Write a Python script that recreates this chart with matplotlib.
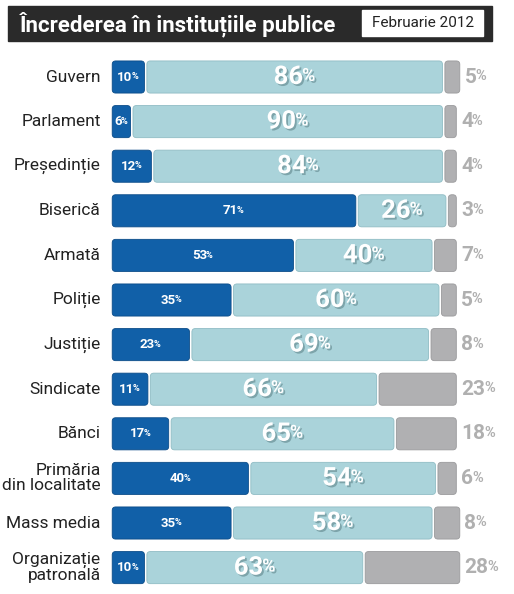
import matplotlib.pyplot as plt
import matplotlib.patches as mpatches
import matplotlib.patheffects as pe

# Données
institutii = ["Guvern", "Parlament", "Președinție", "Biserică", "Armată", "Poliție",
              "Justiție", "Sindicate", "Bănci", "Primăria\ndin localitate",
              "Mass media", "Organizație\npatronală"]
incredere = [10, 6, 12, 71, 53, 35, 23, 11, 17, 40, 35, 10]
neincredere = [86, 90, 84, 26, 40, 60, 69, 66, 65, 54, 58, 63]
nu_stiu = [5, 4, 4, 3, 7, 5, 8, 23, 18, 6, 8, 28]

titlu = "Încrederea în instituțiile publice"
data_sondaj = "Februarie 2012"

c_blue = "#1160a8"
c_light = "#aad3da"
c_grey = "#b0b0b2"
c_grey_txt = "#b0b0b0"

W, H = 514, 594
fig = plt.figure(figsize=(W / 100, H / 100), dpi=100)
fig.patch.set_facecolor("white")

font = ["Roboto", "DejaVu Sans"]

# Bandeau du titre
fig.patches.append(mpatches.Rectangle((8 / W, 1 - 41 / H), 484 / W, 35 / H,
                                      transform=fig.transFigure, color="#2a2a2a"))
fig.patches.append(mpatches.Rectangle((362 / W, 1 - 36 / H), 121 / W, 26 / H,
                                      transform=fig.transFigure, color="white"))
fig.text(20 / W, 1 - 24 / H, titlu, color="white", fontsize=16, fontweight="bold",
         family=font, va="center", ha="left")
fig.text(423 / W, 1 - 23 / H, data_sondaj, color="#222222", fontsize=11,
         family=font, va="center", ha="center")

# Axes des barres
row_h = 44.6
top = 77 - row_h / 2
n = len(institutii)
ax_w = 350
ax = fig.add_axes([111 / W, 1 - (top + n * row_h) / H, ax_w / W, n * row_h / H])
xmax = 101
ax.set_xlim(0, xmax)
ax.set_ylim(n - 0.5, -0.5)
ax.axis("off")

y = list(range(n))
left2 = [a for a in incredere]
left3 = [a + b for a, b in zip(incredere, neincredere)]
hb = 0.72
conts = [
    ax.barh(y, incredere, height=hb, color=c_blue),
    ax.barh(y, neincredere, left=left2, height=hb, color=c_light),
    ax.barh(y, nu_stiu, left=left3, height=hb, color=c_grey),
]

# Barres aux coins arrondis (rapport d'aspect px/unité)
px_x = ax_w / xmax
aspect = px_x / row_h
edges = ["#0b4c88", "#8fbcc4", "#9a9a9c"]
for cont, ec in zip(conts, edges):
    for r in cont.patches:
        r.set_visible(False)
        x0, y0 = r.get_x(), r.get_y()
        w, h = r.get_width(), r.get_height()
        gap = 0.35
        fb = mpatches.FancyBboxPatch((x0 + gap, y0), w - 2 * gap, h,
                                     boxstyle="round,pad=0,rounding_size=1.0",
                                     mutation_aspect=aspect,
                                     facecolor=r.get_facecolor(), edgecolor=ec,
                                     linewidth=0.6)
        ax.add_patch(fb)

shadow = [pe.SimplePatchShadow(offset=(1.3, -1.3), shadow_rgbFace="#5f858b", alpha=0.6),
          pe.Normal()]


def label(x, yy, val, size, color, ha, dx=0, effects=None):
    # nombre + petit signe %
    t = ax.annotate(f"{val}", (x, yy), xytext=(dx, 0), textcoords="offset points",
                    color=color, fontsize=size, fontweight="bold", family=font,
                    ha=ha, va="center", path_effects=effects, annotation_clip=False)
    ax.annotate("%", (1, 0.17), xycoords=t, xytext=(-0.8, 0), textcoords="offset points",
                color=color, fontsize=size * 0.7, fontweight="bold", family=font,
                ha="left", va="bottom", path_effects=effects, annotation_clip=False)


for i in range(n):
    label(incredere[i] / 2, i, incredere[i], 9.5, "white", "center", dx=-2.5)
    label(left2[i] + neincredere[i] / 2, i, neincredere[i], 18.5, "white", "center",
          dx=-4.5, effects=shadow)
    label(left3[i] + nu_stiu[i] + 1.0, i, nu_stiu[i], 15, c_grey_txt, "left")
    ax.text(-3, i, institutii[i], color="#222222", fontsize=12.5, family=font,
            ha="right", va="center", linespacing=1.0)

fig.savefig("out.png", dpi=100)
